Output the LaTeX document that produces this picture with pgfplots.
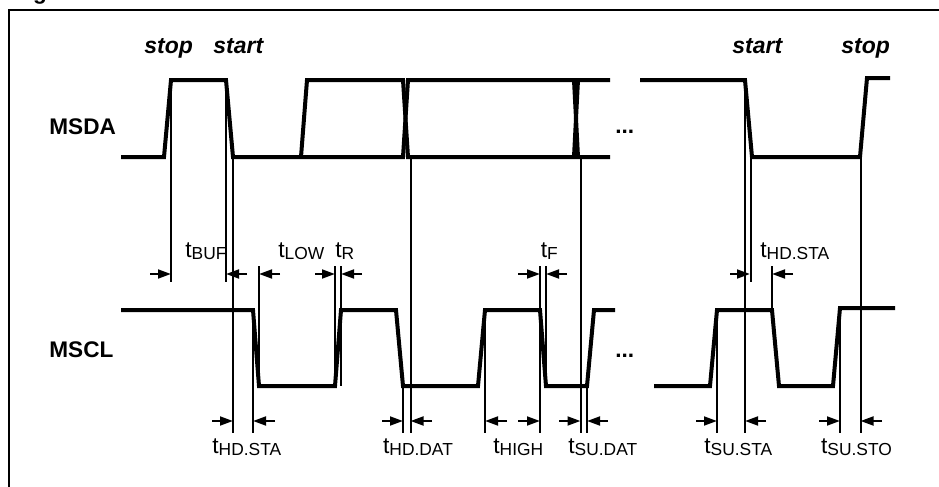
\documentclass[border=0pt]{standalone}
\usepackage{pgfplots}
\pgfplotsset{compat=1.18}
\usepackage{fontspec}
\setmainfont{Liberation Sans}
\usetikzlibrary{arrows.meta}
\newcommand\tl[1]{{\fontsize{11.4}{12}\selectfont t\raisebox{-1pt}{\fontsize{8.7}{9}\selectfont #1}}}
\newcommand\bi[1]{{\fontsize{11.5}{12}\selectfont\bfseries\itshape #1}}
\newcommand\bb[1]{{\fontsize{11.3}{12}\selectfont\bfseries #1}}
\begin{document}
\begin{tikzpicture}
\useasboundingbox (0,0) rectangle (469.5pt,243.5pt);
\clip (0,0) rectangle (469.5pt,243.5pt);
\begin{axis}[at={(0,0)}, anchor=south west, width=469.5pt, height=243.5pt,
  scale only axis, xmin=0, xmax=939, ymin=0, ymax=487, y dir=reverse,
  hide axis, clip=false,
  sig/.style={line width=2pt, black, no markers},
  thn/.style={line width=1pt, black, no markers},
  arr/.style={line width=1.2pt, black, no markers, -{Triangle[length=6.5pt,width=4.4pt]}},
]
% frame
\addplot[line width=1.3pt, black, no markers] coordinates {(9,492) (9,10) (945,10)};
% MSDA
\addplot[sig] coordinates {(121,157) (164,157) (171,80) (226,80) (233,157) (403,157) (408,80) (574,80) (578,157) (610,157)};
\addplot[sig] coordinates {(301,157) (307,80) (403,80) (408,157) (574,157) (578,80) (610,80)};
\addplot[sig] coordinates {(640,80) (745,80) (752,157) (860,157) (867,78) (890,78)};
% MSCL
\addplot[sig] coordinates {(121,310) (253,310) (259,386) (335,386) (341,310) (396,310) (403,386) (478,386) (485,310) (540,310) (546,386) (587,386) (594,310) (615,310)};
\addplot[sig] coordinates {(654,386) (710,386) (717,310) (772,310) (779,386) (833,386) (840,308) (895,308)};
% thin verticals
\addplot[thn] coordinates {(171,80) (171,282)};
\addplot[thn] coordinates {(226,80) (226,282)};
\addplot[thn] coordinates {(233,157) (233,433)};
\addplot[thn] coordinates {(253,310) (253,433)};
\addplot[thn] coordinates {(259,266) (259,386)};
\addplot[thn] coordinates {(335,266) (335,386)};
\addplot[thn] coordinates {(341,266) (341,386)};
\addplot[thn] coordinates {(403,386) (403,433)};
\addplot[thn] coordinates {(410.5,157) (410.5,433)};
\addplot[thn] coordinates {(485,310) (485,433)};
\addplot[thn] coordinates {(540,266) (540,433)};
\addplot[thn] coordinates {(546,266) (546,386)};
\addplot[thn] coordinates {(580.5,157) (580.5,433)};
\addplot[thn] coordinates {(587,386) (587,433)};
\addplot[thn] coordinates {(717,310) (717,433)};
\addplot[thn] coordinates {(745,80) (745,433)};
\addplot[thn] coordinates {(751,157) (751,282)};
\addplot[thn] coordinates {(772,266) (772,310)};
\addplot[thn] coordinates {(840,308) (840,433)};
\addplot[thn] coordinates {(860.5,157) (860.5,433)};
% upper arrows
\addplot[arr] coordinates {(150,274) (171,274)};
\addplot[arr] coordinates {(247,274) (226,274)};
\addplot[arr] coordinates {(280,274) (259,274)};
\addplot[arr] coordinates {(315,274) (335,274)};
\addplot[arr] coordinates {(362,274) (341,274)};
\addplot[arr] coordinates {(518,274) (540,274)};
\addplot[arr] coordinates {(567,274) (546,274)};
\addplot[arr] coordinates {(730,274) (750,274)};
\addplot[arr] coordinates {(793,274) (772,274)};
% lower arrows
\addplot[arr] coordinates {(212,421) (233,421)};
\addplot[arr] coordinates {(275,421) (253,421)};
\addplot[arr] coordinates {(382,421) (403,421)};
\addplot[arr] coordinates {(432,421) (410.5,421)};
\addplot[arr] coordinates {(507,421) (485,421)};
\addplot[arr] coordinates {(518,421) (540,421)};
\addplot[arr] coordinates {(559,421) (580.5,421)};
\addplot[arr] coordinates {(608,421) (587,421)};
\addplot[arr] coordinates {(696,421) (717,421)};
\addplot[arr] coordinates {(766,421) (745,421)};
\addplot[arr] coordinates {(819,421) (840,421)};
\addplot[arr] coordinates {(882,421) (860.5,421)};
% texts
\node[anchor=base west, inner sep=0] at (axis cs:12.6,-0.6) {\bb{Figure}};
\node[anchor=base west, inner sep=0] at (axis cs:144,53.5) {\bi{stop}};
\node[anchor=base west, inner sep=0] at (axis cs:213,53.5) {\bi{start}};
\node[anchor=base west, inner sep=0] at (axis cs:732,53.5) {\bi{start}};
\node[anchor=base west, inner sep=0] at (axis cs:841,53.5) {\bi{stop}};
\node[anchor=base west, inner sep=0] at (axis cs:49,134) {\bb{MSDA}};
\node[anchor=base west, inner sep=0] at (axis cs:49,357) {\bb{MSCL}};
\node[anchor=base west, inner sep=0] at (axis cs:615,133.5) {\bb{...}};
\node[anchor=base west, inner sep=0] at (axis cs:615,357) {\bb{...}};
\node[anchor=base west, inner sep=0] at (axis cs:185,257.5) {\tl{BUF}};
\node[anchor=base west, inner sep=0] at (axis cs:278,257.5) {\tl{LOW}};
\node[anchor=base west, inner sep=0] at (axis cs:335,257.5) {\tl{R}};
\node[anchor=base west, inner sep=0] at (axis cs:540.5,257.5) {\tl{F}};
\node[anchor=base west, inner sep=0] at (axis cs:760,257.5) {\tl{HD.STA}};
\node[anchor=base west, inner sep=0] at (axis cs:212,453.5) {\tl{HD.STA}};
\node[anchor=base west, inner sep=0] at (axis cs:382.7,453.5) {\tl{HD.DAT}};
\node[anchor=base west, inner sep=0] at (axis cs:493,453.5) {\tl{HIGH}};
\node[anchor=base west, inner sep=0] at (axis cs:568,453.5) {\tl{SU.DAT}};
\node[anchor=base west, inner sep=0] at (axis cs:704,453.5) {\tl{SU.STA}};
\node[anchor=base west, inner sep=0] at (axis cs:820.7,453.5) {\tl{SU.STO}};
\end{axis}
\end{tikzpicture}
\end{document}
